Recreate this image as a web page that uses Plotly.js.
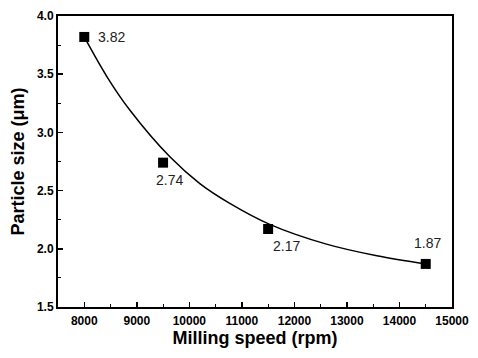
<!DOCTYPE html>
<html><head><meta charset="utf-8">
<script src="https://cdn.plot.ly/plotly-3.0.1.min.js"></script>
<style>html,body{margin:0;padding:0;background:#fff}#c{width:478px;height:358px}</style>
</head><body><div id="c"></div>
<script>
const speed = [8000, 9500, 11500, 14500];
const size = [3.82, 2.74, 2.17, 1.87];
const labels = ['3.82', '2.74', '2.17', '1.87'];
const fitX = [8000, 8430, 8870, 9630, 10200, 10770, 11530, 12610, 13570, 14500];
const fitY = [3.82, 3.48, 3.19, 2.79, 2.56, 2.39, 2.21, 2.04, 1.94, 1.87];

const labelPos = [
  {xanchor:'left', yanchor:'middle', xshift:12, yshift:0},
  {xanchor:'center', yanchor:'top', xshift:6, yshift:-7},
  {xanchor:'center', yanchor:'top', xshift:18, yshift:-7},
  {xanchor:'center', yanchor:'bottom', xshift:2, yshift:11}
];

const font = 'Liberation Sans, Arial, sans-serif';
const traces = [
  {x: fitX, y: fitY, mode:'lines', line:{color:'#000', width:1.5, shape:'spline'}, hoverinfo:'skip'},
  {x: speed, y: size, mode:'markers', marker:{symbol:'square', size:10, color:'#000'}}
];
const annotations = speed.map((s,i)=>Object.assign({
  x: s, y: size[i], text: labels[i], showarrow:false,
  font:{family:font, size:14, color:'#222'}
}, labelPos[i]));

const axisCommon = {
  showline:true, linecolor:'#000', linewidth:2, mirror:true,
  ticks:'inside', ticklen:5, tickwidth:1.5, tickcolor:'#000',
  showgrid:false, zeroline:false,
  tickfont:{family:font, size:12, color:'#000', weight:'bold'}
};
const layout = {
  width:478, height:358, showlegend:false,
  paper_bgcolor:'#fff', plot_bgcolor:'#fff',
  margin:{l:58, r:26, t:16, b:51},
  xaxis: Object.assign({}, axisCommon, {
    range:[7500, 15000], dtick:1000, tick0:8000, tickformat:'d',
    minor:{dtick:500, ticks:'inside', ticklen:3, tickcolor:'#000', tickwidth:1},
    ticklabelstandoff:2,
    title:{text:'Milling speed (rpm)', standoff:4, font:{family:font, size:18, color:'#000', weight:'bold'}}
  }),
  yaxis: Object.assign({}, axisCommon, {
    range:[1.5, 4.0], dtick:0.5, tickformat:'.1f',
    minor:{dtick:0.25, ticks:'inside', ticklen:3, tickcolor:'#000', tickwidth:1},
    title:{text:'Particle size (μm)', standoff:8, font:{family:font, size:18, color:'#000', weight:'bold'}}
  }),
  annotations: annotations
};
Plotly.newPlot('c', traces, layout, {displayModeBar:false, staticPlot:true});
</script>
</body></html>
